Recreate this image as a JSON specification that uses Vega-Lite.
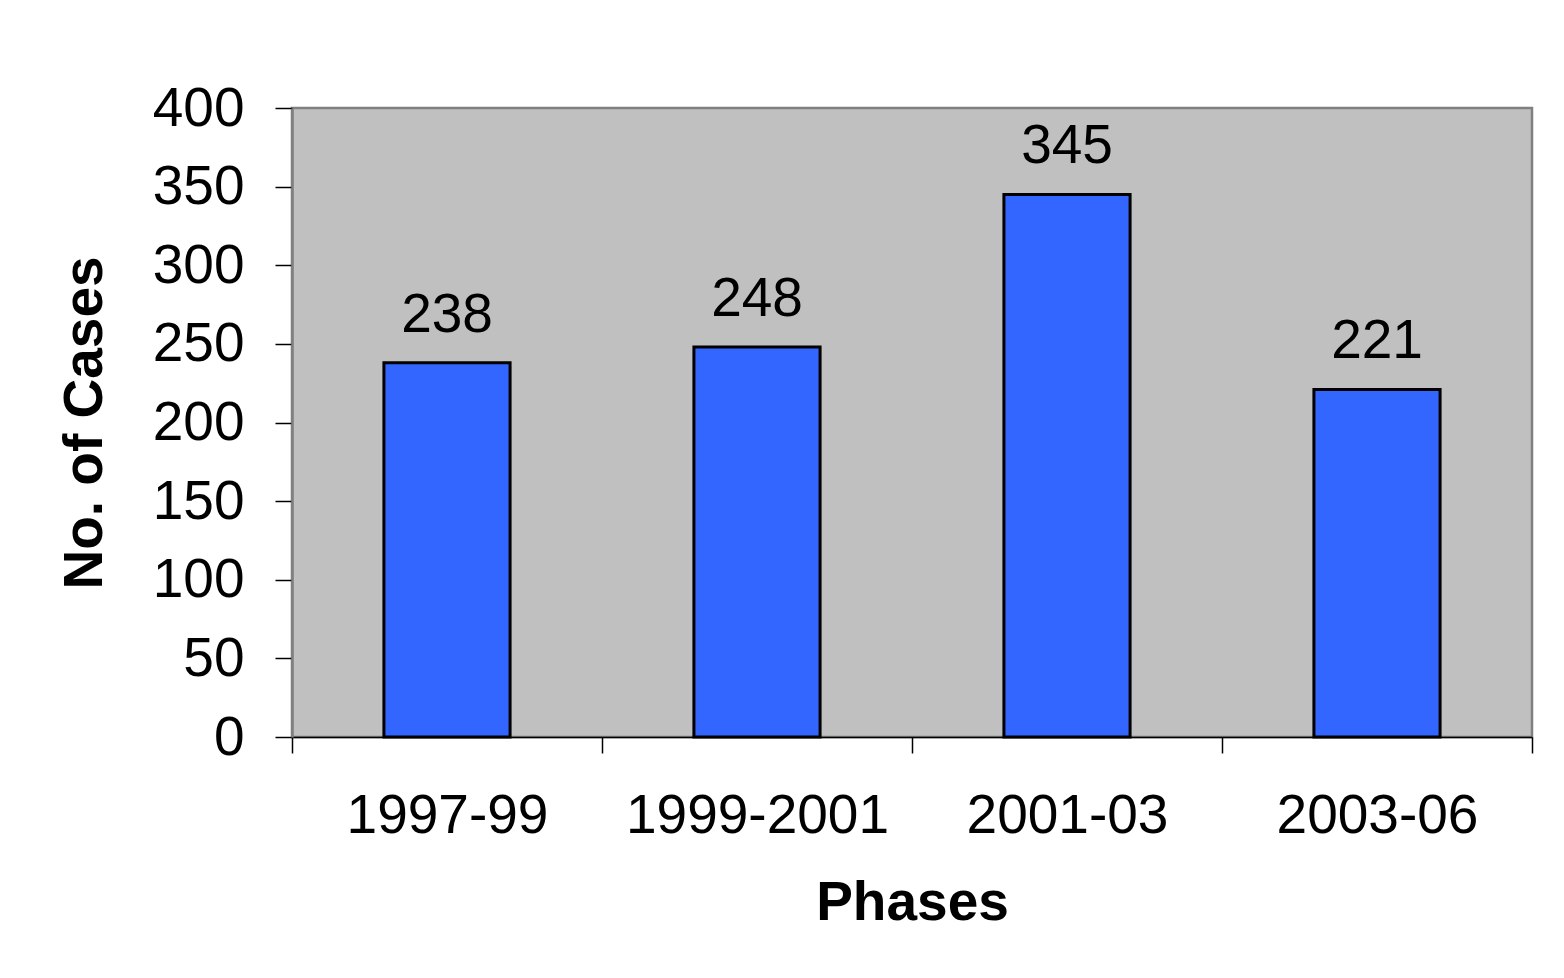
{
  "$schema": "https://vega.github.io/schema/vega-lite/v6.json",
  "autosize": {"type": "none"},
  "width": 1240,
  "height": 629,
  "padding": {"left": 292, "top": 108, "right": 32, "bottom": 241},
  "background": "white",
  "config": {
    "font": "Liberation Sans",
    "view": {"fill": "#C0C0C0", "stroke": "#808080", "strokeWidth": 2.5},
    "axis": {"grid": false, "labelFont": "Liberation Sans", "titleFont": "Liberation Sans", "labelColor": "black", "titleColor": "black"}
  },
  "data": {
    "values": [
      {"phase": "1997-99", "cases": 238},
      {"phase": "1999-2001", "cases": 248},
      {"phase": "2001-03", "cases": 345},
      {"phase": "2003-06", "cases": 221}
    ]
  },
  "encoding": {
    "x": {
      "field": "phase",
      "type": "nominal",
      "sort": null,
      "scale": {"paddingInner": 0, "paddingOuter": 0},
      "axis": {
        "title": "Phases",
        "labelAngle": 0,
        "labelLimit": 0,
        "labelFontSize": 55,
        "titleFontSize": 55,
        "titleFontWeight": "bold",
        "tickBand": "extent",
        "tickSize": 16,
        "tickColor": "black",
        "tickWidth": 1.5,
        "domainColor": "black",
        "domainWidth": 1.5,
        "labelPadding": 36,
        "titlePadding": 33
      }
    },
    "y": {
      "field": "cases",
      "type": "quantitative",
      "scale": {"domain": [0, 400], "nice": false},
      "axis": {
        "title": "No. of Cases",
        "values": [0, 50, 100, 150, 200, 250, 300, 350, 400],
        "labelFontSize": 55,
        "titleFontSize": 55,
        "titleFontWeight": "bold",
        "tickSize": 17,
        "tickColor": "black",
        "tickWidth": 1.5,
        "domainColor": "#808080",
        "domainWidth": 2.5,
        "labelPadding": 31,
        "titlePadding": 39
      }
    }
  },
  "layer": [
    {
      "mark": {"type": "bar", "width": {"band": 0.407}, "fill": "#3366FF", "stroke": "black", "strokeWidth": 3}
    },
    {
      "mark": {"type": "text", "fontSize": 55, "baseline": "alphabetic", "dy": -31, "color": "black", "font": "Liberation Sans"},
      "encoding": {"text": {"field": "cases", "type": "quantitative"}}
    }
  ]
}
